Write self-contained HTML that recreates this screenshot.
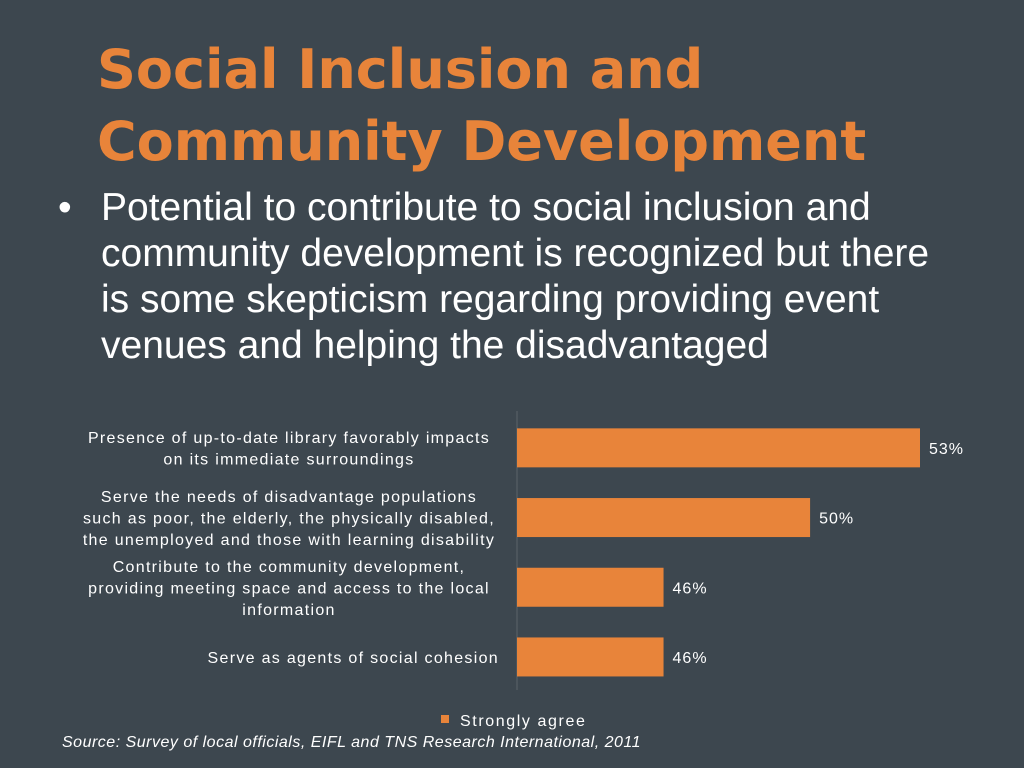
<!DOCTYPE html>
<html><head><meta charset="utf-8"><style>
body{margin:0;width:1024px;height:768px;background:#3d474f;overflow:hidden;font-family:"Liberation Sans",sans-serif;position:relative}
.t{position:absolute;left:97px;top:34px;color:#e8843a;font-weight:bold;font-family:"DejaVu Sans",sans-serif;font-size:54px;line-height:72px}
.b{position:absolute;left:58px;top:185px;color:#fff;font-size:39px;line-height:46px;width:910px}
.b span{position:absolute;left:0}
.b div{margin-left:43px}
.src{position:absolute;left:62px;top:734px;color:#fff;font-style:italic;font-size:16px;letter-spacing:0.5px}
</style></head><body>
<div class="t">Social Inclusion and<br>Community Development</div>
<div class="b"><span>•</span><div>Potential to contribute to social inclusion and community development is recognized but there is some skepticism regarding providing event venues and helping the disadvantaged</div></div>
<svg width="1024" height="768" style="position:absolute;left:0;top:0">
<g id="g"></g>
</svg>
<div class="src">Source: Survey of local officials, EIFL and TNS Research International, 2011</div>
<script>
const categories=[["Presence of up-to-date library favorably impacts","on its immediate surroundings"],["Serve the needs of disadvantage populations","such as poor, the elderly, the physically disabled,","the unemployed and those with learning disability"],["Contribute to the community development,","providing meeting space and access to the local","information"],["Serve as agents of social cohesion"]];
const values=[53,50,46,46];
const valueLabels=["53%","50%","46%","46%"];
const seriesName="Strongly agree";
const NS="http://www.w3.org/2000/svg";
const g=document.getElementById('g');
const x0=517,xmin=42,pxu=403/11;
const x=v=>x0+(v-xmin)*pxu;
const bandTop=413,band=69.7,barH=39;
const y=i=>bandTop+i*band+(band-barH)/2;
function el(t,a){const e=document.createElementNS(NS,t);for(const k in a)e.setAttribute(k,a[k]);g.appendChild(e);return e;}
const ax=el('line',{x1:x0,x2:x0,y1:411,y2:690,stroke:'#5a636a','stroke-width':1});


values.forEach((v,i)=>{
 const r=el('rect',{x:x0,y:y(i),width:x(v)-x0,height:barH,fill:'#e8843a'});
 
 
 const t=el('text',{x:x(v)+9,y:y(i)+barH/2+6,fill:'#fff','font-size':16,'font-family':'Liberation Sans, sans-serif','letter-spacing':'1'});
 t.textContent=valueLabels[i];
 
 
 const lines=categories[i];const cy=y(i)+barH/2;const lh=21.5;
 lines.forEach((s,j)=>{
  const single=lines.length==1;
  const c=el('text',{x:single?499:289,y:cy+(j-(lines.length-1)/2)*lh+6,fill:'#fff','font-size':16,'text-anchor':single?'end':'middle','font-family':'Liberation Sans, sans-serif','letter-spacing':'1.3'});
  c.textContent=s;
  
  
 });
});
const lr=el('rect',{x:441,y:715,width:8,height:8,fill:'#e8843a'});


const lt=el('text',{x:460,y:726,fill:'#fff','font-size':16,'font-family':'Liberation Sans, sans-serif','letter-spacing':'1.6'});
lt.textContent=seriesName;


</script>
</body></html>
